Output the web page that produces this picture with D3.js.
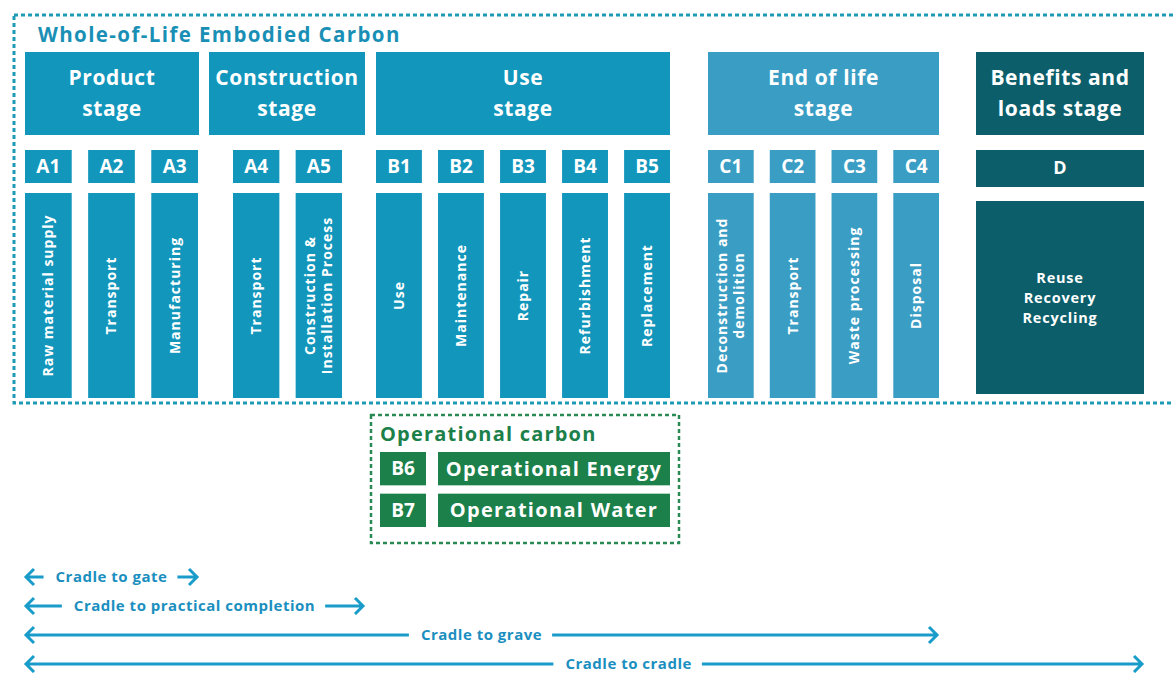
<!DOCTYPE html>
<html>
<head>
<meta charset="utf-8">
<script src="https://cdn.jsdelivr.net/npm/d3@7"></script>
<style>
  body { margin: 0; background: #fff; }
  svg { display: block; font-family: "Open Sans", sans-serif; font-weight: 700; }
</style>
</head>
<body>
<svg></svg>
<script>
// stages, modules and spans of the life cycle
var stageNames = [["Product", "stage"], ["Construction", "stage"], ["Use", "stage"], ["End of life", "stage"], ["Benefits and", "loads stage"]];
var moduleCodes = ["A1", "A2", "A3", "A4", "A5", "B1", "B2", "B3", "B4", "B5", "C1", "C2", "C3", "C4", "D"];
var moduleStage = [0, 0, 0, 1, 1, 2, 2, 2, 2, 2, 3, 3, 3, 3, 4];
var moduleLabels = [["Raw material supply"], ["Transport"], ["Manufacturing"], ["Transport"],
  ["Construction &", "Installation Process"], ["Use"], ["Maintenance"], ["Repair"], ["Refurbishment"],
  ["Replacement"], ["Deconstruction and", "demolition"], ["Transport"], ["Waste processing"], ["Disposal"],
  ["Reuse", "Recovery", "Recycling"]];
var opCodes = ["B6", "B7"];
var opLabels = ["Operational Energy", "Operational Water"];
var spanNames = ["Cradle to gate", "Cradle to practical completion", "Cradle to grave", "Cradle to cradle"];
var spanEndStage = [0, 1, 3, 4];
var spanLabelPos = [0.5, 0.5, 0.5, 0.54];

var W = 1173, H = 673;
var svg = d3.select("svg").attr("width", W).attr("height", H);

// colours
var stageColor = ["#1296bb", "#1296bb", "#1296bb", "#3a9dc4", "#0b5e6a"];
var green = "#1b8049", arrowBlue = "#1a9ccb";

// layout (stage extents, and where the module boxes sit inside each)
var stageRange = [[25, 199], [209, 365], [376, 670], [708, 939], [976, 1144]];
var moduleRange = [[25, 198], [233, 342], [376, 670], [708, 939], [976, 1144]];

var bands = stageRange.map(function(r, s) {
  var codes = moduleCodes.filter(function(c, i) { return moduleStage[i] === s; });
  return d3.scaleBand().domain(codes).range(moduleRange[s]).paddingInner(s === 4 ? 0 : 0.26);
});

var y = { headTop: 52, headBot: 135, codeTop: 150, codeBot: 183, descTop: 193, descBot: 398 };

// outer dotted frame
svg.append("rect")
  .attr("x", 14).attr("y", 15).attr("width", W + 20).attr("height", 388)
  .attr("fill", "none").attr("stroke", "#1e9bb4").attr("stroke-width", 3)
  .attr("stroke-dasharray", "4,3");

svg.append("text")
  .attr("x", 38).attr("y", 42)
  .attr("fill", "#1a8fb5").attr("font-size", 20.5).attr("letter-spacing", 1.4)
  .text("Whole-of-Life Embodied Carbon");

// stage headers
var head = svg.selectAll(".stage").data(stageNames).enter().append("g").attr("class", "stage");
head.append("rect")
  .attr("x", function(d, i) { return stageRange[i][0]; })
  .attr("y", y.headTop)
  .attr("width", function(d, i) { return stageRange[i][1] - stageRange[i][0]; })
  .attr("height", y.headBot - y.headTop)
  .attr("fill", function(d, i) { return stageColor[i]; });
head.append("text")
  .attr("text-anchor", "middle").attr("fill", "#fff").attr("font-size", 21).attr("letter-spacing", 0.6)
  .selectAll("tspan").data(function(d, i) { return d.map(function(t) { return { t: t, s: i }; }); })
  .enter().append("tspan")
  .attr("x", function(d) { return (stageRange[d.s][0] + stageRange[d.s][1]) / 2; })
  .attr("y", function(d, j) { return 85 + j * 31; })
  .text(function(d) { return d.t; });

// modules
var mod = svg.selectAll(".module").data(moduleCodes).enter().append("g").attr("class", "module");
function mx(c, i) { return bands[moduleStage[i]](c); }
function mw(i) { return bands[moduleStage[i]].bandwidth(); }

mod.append("rect")
  .attr("x", mx)
  .attr("y", y.codeTop)
  .attr("width", function(c, i) { return mw(i); })
  .attr("height", function(c) { return c === "D" ? 37 : y.codeBot - y.codeTop; })
  .attr("fill", function(c, i) { return stageColor[moduleStage[i]]; });
mod.append("text")
  .attr("x", function(c, i) { return mx(c, i) + mw(i) / 2; })
  .attr("y", function(c) { return c === "D" ? 168 : 166.5; })
  .attr("dy", "0.35em")
  .attr("text-anchor", "middle").attr("fill", "#fff")
  .attr("font-size", function(c) { return c === "D" ? 18 : 19; })
  .text(function(c) { return c; });

mod.append("rect")
  .attr("x", mx)
  .attr("y", function(c) { return c === "D" ? 201 : y.descTop; })
  .attr("width", function(c, i) { return mw(i); })
  .attr("height", function(c) { return c === "D" ? 193 : y.descBot - y.descTop; })
  .attr("fill", function(c, i) { return stageColor[moduleStage[i]]; });

mod.each(function(c, i) {
  var g = d3.select(this), lines = moduleLabels[i];
  var cx = mx(c, i) + mw(i) / 2, cy = (y.descTop + y.descBot) / 2;
  if (c === "D") {
    g.append("text").attr("text-anchor", "middle").attr("fill", "#fff").attr("font-size", 14.5)
      .attr("letter-spacing", 0.8)
      .selectAll("tspan").data(lines).enter().append("tspan")
      .attr("x", cx).attr("y", function(t, j) { return 297.5 + (j - 1) * 20; })
      .attr("dy", "0.35em").text(function(t) { return t; });
  } else {
    g.append("text").attr("text-anchor", "middle").attr("fill", "#fff").attr("font-size", 14)
      .attr("letter-spacing", 1)
      .attr("transform", "translate(" + cx + "," + cy + ") rotate(-90)")
      .selectAll("tspan").data(lines).enter().append("tspan")
      .attr("x", 0).attr("y", function(t, j) { return (j - (lines.length - 1) / 2) * 17; })
      .attr("dy", "0.35em").text(function(t) { return t; });
  }
});

// operational carbon block
var opBox = { x0: 371, x1: 679, y0: 415, y1: 543 };
svg.append("rect")
  .attr("x", opBox.x0).attr("y", opBox.y0)
  .attr("width", opBox.x1 - opBox.x0).attr("height", opBox.y1 - opBox.y0)
  .attr("fill", "none").attr("stroke", "#2a8a55").attr("stroke-width", 2.5)
  .attr("stroke-dasharray", "4,3");
svg.append("text")
  .attr("x", 380).attr("y", 441).attr("fill", green).attr("font-size", 20).attr("letter-spacing", 1.2)
  .text("Operational carbon");

var opY = d3.scaleBand().domain(opCodes).range([452, 527]).paddingInner(0.2);
var op = svg.selectAll(".op").data(opCodes).enter().append("g").attr("class", "op");
op.append("rect").attr("x", 380).attr("y", function(c) { return opY(c); })
  .attr("width", 46).attr("height", opY.bandwidth()).attr("fill", green);
op.append("rect").attr("x", 438).attr("y", function(c) { return opY(c); })
  .attr("width", 232).attr("height", opY.bandwidth()).attr("fill", green);
op.append("text").attr("x", 403).attr("y", function(c) { return opY(c) + opY.bandwidth() / 2; })
  .attr("dy", "0.35em").attr("text-anchor", "middle").attr("fill", "#fff").attr("font-size", 19)
  .text(function(c) { return c; });
op.append("text").attr("x", 554).attr("y", function(c) { return opY(c) + opY.bandwidth() / 2; })
  .attr("dy", "0.35em").attr("text-anchor", "middle").attr("fill", "#fff").attr("font-size", 20)
  .attr("letter-spacing", 1.3)
  .text(function(c, i) { return opLabels[i]; });

// life-cycle span arrows
var rowY = d3.scalePoint().domain(spanNames).range([577, 664]);
var ah = 8;
spanNames.forEach(function(name, i) {
  var yy = rowY(name);
  var x0 = stageRange[0][0] + 1, x1 = stageRange[spanEndStage[i]][1] - 2;
  var cx = x0 + (x1 - x0) * spanLabelPos[i];
  var g = svg.append("g").attr("class", "span");
  var t = g.append("text").attr("x", cx).attr("y", yy).attr("dy", "0.35em")
    .attr("text-anchor", "middle").attr("fill", "#1b8fbf").attr("font-size", 15)
    .attr("letter-spacing", 0.5).text(name);
  var w = t.node().getComputedTextLength();
  var line = d3.line();
  g.append("path")
    .attr("d", line([[x0, yy], [Math.max(x0 + ah, cx - w / 2 - 12), yy]]) +
      "M" + (x0 + ah) + "," + (yy - ah) + "L" + x0 + "," + yy + "L" + (x0 + ah) + "," + (yy + ah))
    .attr("fill", "none").attr("stroke", arrowBlue).attr("stroke-width", 3);
  g.append("path")
    .attr("d", line([[Math.min(x1 - ah, cx + w / 2 + 10), yy], [x1, yy]]) +
      "M" + (x1 - ah) + "," + (yy - ah) + "L" + x1 + "," + yy + "L" + (x1 - ah) + "," + (yy + ah))
    .attr("fill", "none").attr("stroke", arrowBlue).attr("stroke-width", 3);
});
</script>
</body>
</html>
